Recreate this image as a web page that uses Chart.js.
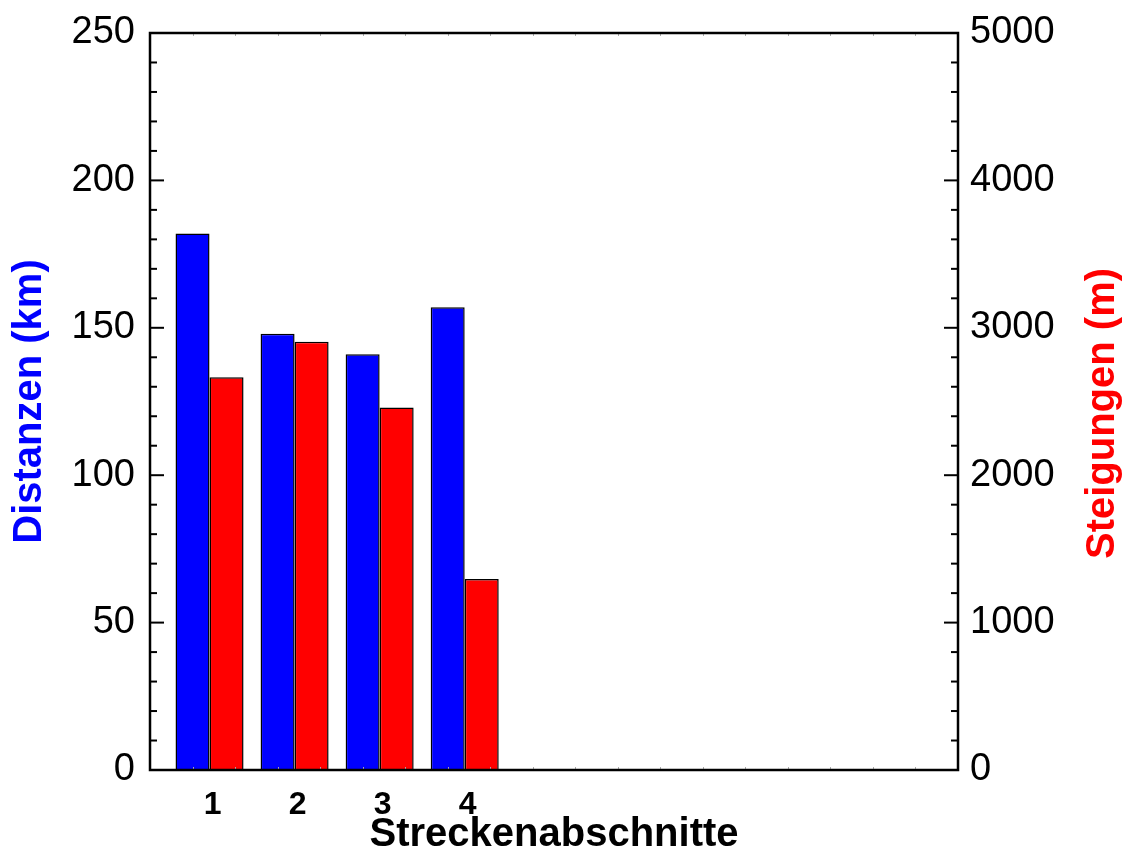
<!DOCTYPE html>
<html>
<head>
<meta charset="utf-8">
<script src="https://cdn.jsdelivr.net/npm/chart.js@4/dist/chart.umd.min.js"></script>
<style>
  body { margin: 0; background: #fff; }
  canvas { display: block; }
</style>
</head>
<body>
<canvas id="chart" width="1131" height="868"></canvas>
<script>
// Streckenabschnitte (x positions) and values
var categories = [1, 2, 3, 4];
var distanzen = [182, 148, 141, 157];        // km, left axis
var steigungen = [2665, 2905, 2460, 1295];   // m, right axis

var FONT = "'Liberation Sans', Arial, sans-serif";

// inward tick marks, minor x ticks and the frame round the plot
var framePlugin = {
    id: 'frame',
    afterDraw: function (chart) {
        var ctx = chart.ctx;
        var a = chart.chartArea;
        var x = chart.scales.x, yl = chart.scales.y, yr = chart.scales.y2;
        ctx.save();

        // faint minor ticks on x, top and bottom
        ctx.strokeStyle = '#aaa';
        ctx.lineWidth = 1;
        for (var v = x.min; v <= x.max + 1e-9; v += 0.5) {
            var px = Math.round(x.getPixelForValue(v)) + 0.5;
            ctx.beginPath();
            ctx.moveTo(px, a.bottom); ctx.lineTo(px, a.bottom - 3);
            ctx.moveTo(px, a.top); ctx.lineTo(px, a.top + 3);
            ctx.stroke();
        }

        ctx.strokeStyle = '#000';
        ctx.lineWidth = 2;
        for (var t = yl.min; t <= yl.max; t += 10) {
            var py = yl.getPixelForValue(t);
            var len = t % 50 === 0 ? 14 : 7;
            ctx.beginPath();
            ctx.moveTo(a.left, py); ctx.lineTo(a.left + len, py);
            ctx.stroke();
        }
        for (var s = yr.min; s <= yr.max; s += 200) {
            var qy = yr.getPixelForValue(s);
            var len2 = s % 1000 === 0 ? 14 : 7;
            ctx.beginPath();
            ctx.moveTo(a.right, qy); ctx.lineTo(a.right - len2, qy);
            ctx.stroke();
        }

        ctx.lineWidth = 2.5;
        ctx.strokeRect(a.left, a.top, a.right - a.left, a.bottom - a.top);

        // right axis title, reading bottom to top
        ctx.fillStyle = '#ff0000';
        ctx.font = 'bold 40px ' + FONT;
        ctx.textAlign = 'center';
        ctx.textBaseline = 'middle';
        ctx.translate(1103, (a.top + a.bottom) / 2 + 12);
        ctx.rotate(-Math.PI / 2);
        ctx.fillText('Steigungen (m)', 0, 0);
        ctx.restore();
    }
};

function noPadding(scale) {
    scale.paddingTop = 0;
    scale.paddingBottom = 0;
    scale.paddingLeft = 0;
    scale.paddingRight = 0;
}

new Chart(document.getElementById('chart'), {
    type: 'bar',
    data: {
        datasets: [
            {
                label: 'Distanzen (km)',
                data: categories.map((c, i) => ({ x: c, y: distanzen[i] })),
                backgroundColor: '#0000ff',
                borderColor: '#000',
                borderWidth: 1.5,
                yAxisID: 'y'
            },
            {
                label: 'Steigungen (m)',
                data: categories.map((c, i) => ({ x: c, y: steigungen[i] })),
                backgroundColor: '#ff0000',
                borderColor: '#000',
                borderWidth: 1.5,
                yAxisID: 'y2'
            }
        ]
    },
    options: {
        responsive: false,
        animation: false,
        devicePixelRatio: 1,
        categoryPercentage: 0.8,
        barPercentage: 1.0,
        layout: { padding: { top: 33, left: 0, right: 0, bottom: 0 } },
        plugins: {
            legend: { display: false },
            tooltip: { enabled: false }
        },
        scales: {
            x: {
                type: 'linear',
                min: 0.3,
                max: 9.8,
                offset: false,
                grid: { display: false, drawTicks: false },
                border: { display: false },
                afterBuildTicks: function (scale) {
                    scale.ticks = categories.map(v => ({ value: v }));
                },
                afterFit: function (scale) { scale.height = 98; noPadding(scale); },
                ticks: {
                    padding: 16,
                    labelOffset: 3,
                    color: '#000',
                    font: { family: FONT, size: 32, weight: 'bold' }
                },
                title: {
                    display: true,
                    text: 'Streckenabschnitte',
                    color: '#000',
                    padding: { top: 0, bottom: 9 },
                    font: { family: FONT, size: 40, weight: 'bold' }
                }
            },
            y: {
                position: 'left',
                min: 0,
                max: 250,
                grid: { display: false, drawTicks: false },
                border: { display: false },
                afterFit: function (scale) { scale.width = 150; noPadding(scale); },
                ticks: {
                    stepSize: 50,
                    padding: 15,
                    color: '#000',
                    font: { family: FONT, size: 38 }
                },
                title: {
                    display: true,
                    text: 'Distanzen (km)',
                    color: '#0000ff',
                    padding: { top: 6, bottom: 0 },
                    font: { family: FONT, size: 40, weight: 'bold' }
                }
            },
            y2: {
                position: 'right',
                min: 0,
                max: 5000,
                grid: { display: false, drawTicks: false },
                border: { display: false },
                afterFit: function (scale) { scale.width = 173; noPadding(scale); },
                ticks: {
                    stepSize: 1000,
                    padding: 12,
                    color: '#000',
                    font: { family: FONT, size: 38 },
                    callback: function (value) { return String(value); }
                }
            }
        }
    },
    plugins: [framePlugin]
});
</script>
</body>
</html>
